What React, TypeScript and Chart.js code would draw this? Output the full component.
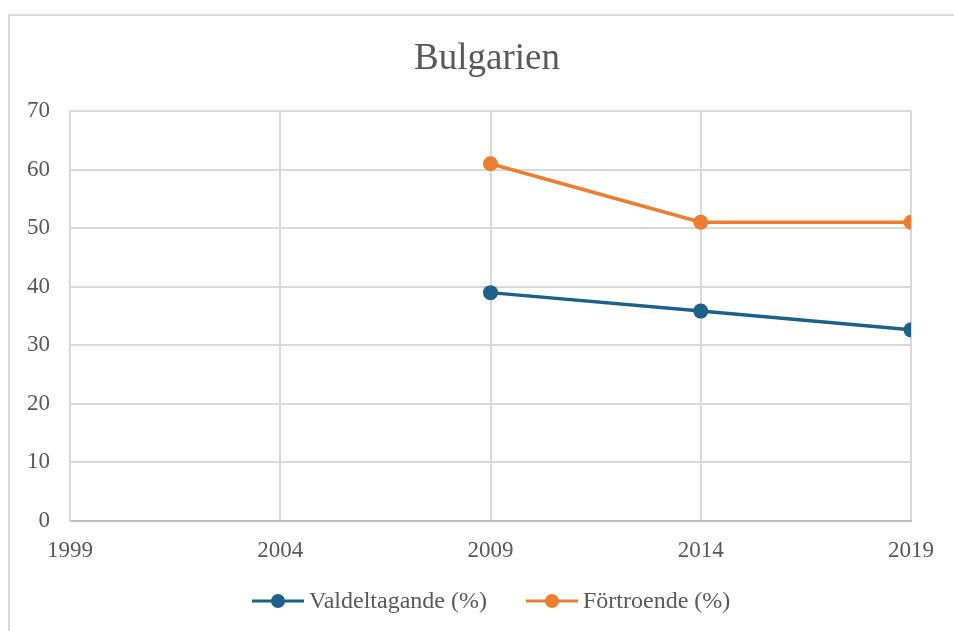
import React, { useEffect, useRef } from "react";
import { Chart, registerables } from "chart.js";

Chart.register(...registerables);

const title = "Bulgarien";
const years = [2009, 2014, 2019];
const valdeltagande = [38.99, 35.84, 32.64];
const fortroende = [61, 51, 51];
const seriesNames = ["Valdeltagande (%)", "Förtroende (%)"];
const seriesColors = ["#1d6189", "#ed7d31"];
const xMin = 1999;
const xMax = 2019;
const xStep = 5;
const yMin = 0;
const yMax = 70;
const yStep = 10;

const FONT = "'Liberation Serif', 'Times New Roman', serif";
const TEXT = "#595959";

const customPlugin = {
  id: "customTitleLegend",
  afterDraw(chart: any) {
    const ctx = chart.ctx;
    ctx.save();
    ctx.fillStyle = TEXT;
    ctx.font = `37px ${FONT}`;
    ctx.textAlign = "center";
    ctx.textBaseline = "middle";
    ctx.fillText(title, 487, 59);
    // legend
    const items = [
      { x: 252, name: seriesNames[0], color: seriesColors[0] },
      { x: 526, name: seriesNames[1], color: seriesColors[1] },
    ];
    const ly = 601;
    ctx.font = `24px ${FONT}`;
    ctx.textAlign = "left";
    for (const it of items) {
      ctx.strokeStyle = it.color;
      ctx.lineWidth = 3;
      ctx.beginPath();
      ctx.moveTo(it.x, ly);
      ctx.lineTo(it.x + 52, ly);
      ctx.stroke();
      ctx.fillStyle = it.color;
      ctx.beginPath();
      ctx.arc(it.x + 26, ly, 7, 0, Math.PI * 2);
      ctx.fill();
      ctx.fillStyle = TEXT;
      ctx.fillText(it.name, it.x + 57, ly + 1);
    }
    ctx.restore();
  },
};

export default function App() {
  const ref = useRef<HTMLCanvasElement>(null);
  useEffect(() => {
    document.body.style.margin = "0";
    const ctx = ref.current!.getContext("2d")!;
    const chart = new Chart(ctx, {
      type: "line",
      data: {
        datasets: [
          {
            label: seriesNames[0],
            data: years.map((y, i) => ({ x: y, y: valdeltagande[i] })),
            borderColor: seriesColors[0],
            backgroundColor: seriesColors[0],
            borderWidth: 3.5,
            pointRadius: 7.5,
            pointHoverRadius: 7.5,
            pointBorderWidth: 0,
          },
          {
            label: seriesNames[1],
            data: years.map((y, i) => ({ x: y, y: fortroende[i] })),
            borderColor: seriesColors[1],
            backgroundColor: seriesColors[1],
            borderWidth: 3.5,
            pointRadius: 7.5,
            pointHoverRadius: 7.5,
            pointBorderWidth: 0,
          },
        ],
      },
      options: {
        animation: false,
        responsive: false,
        devicePixelRatio: 1,
        layout: { padding: { top: 111, right: 43, bottom: 70, left: 0 } },
        plugins: {
          legend: { display: false },
          title: { display: false },
          tooltip: { enabled: false },
        },
        scales: {
          x: {
            type: "linear",
            min: xMin,
            max: xMax,
            afterFit(scale: any) {
              scale.height = 40;
            },
            ticks: {
              stepSize: xStep,
              color: TEXT,
              font: { family: FONT, size: 23 },
              padding: 16,
              maxRotation: 0,
              callback: (v: any) => String(v),
            },
            grid: { color: "#d9d9d9", lineWidth: 2, drawTicks: false },
            border: { color: "#bfbfbf", width: 2 },
          },
          y: {
            min: yMin,
            max: yMax,
            afterFit(scale: any) {
              scale.width = 70;
            },
            ticks: {
              stepSize: yStep,
              color: TEXT,
              font: { family: FONT, size: 23 },
              padding: 20,
            },
            grid: { color: "#d9d9d9", lineWidth: 2, drawTicks: false },
            border: { color: "#d9d9d9", width: 2 },
          },
        },
      },
      plugins: [customPlugin],
    } as any);
    return () => chart.destroy();
  }, []);
  return (
    <div style={{ position: "relative", width: 954, height: 631, overflow: "hidden", background: "#fff" }}>
      <div
        style={{
          position: "absolute",
          left: 8,
          top: 14,
          width: 960,
          height: 640,
          border: "2px solid #d9d9d9",
          boxSizing: "border-box",
        }}
      />
      <canvas ref={ref} width={954} height={631} style={{ position: "absolute", left: 0, top: 0 }} />
    </div>
  );
}
